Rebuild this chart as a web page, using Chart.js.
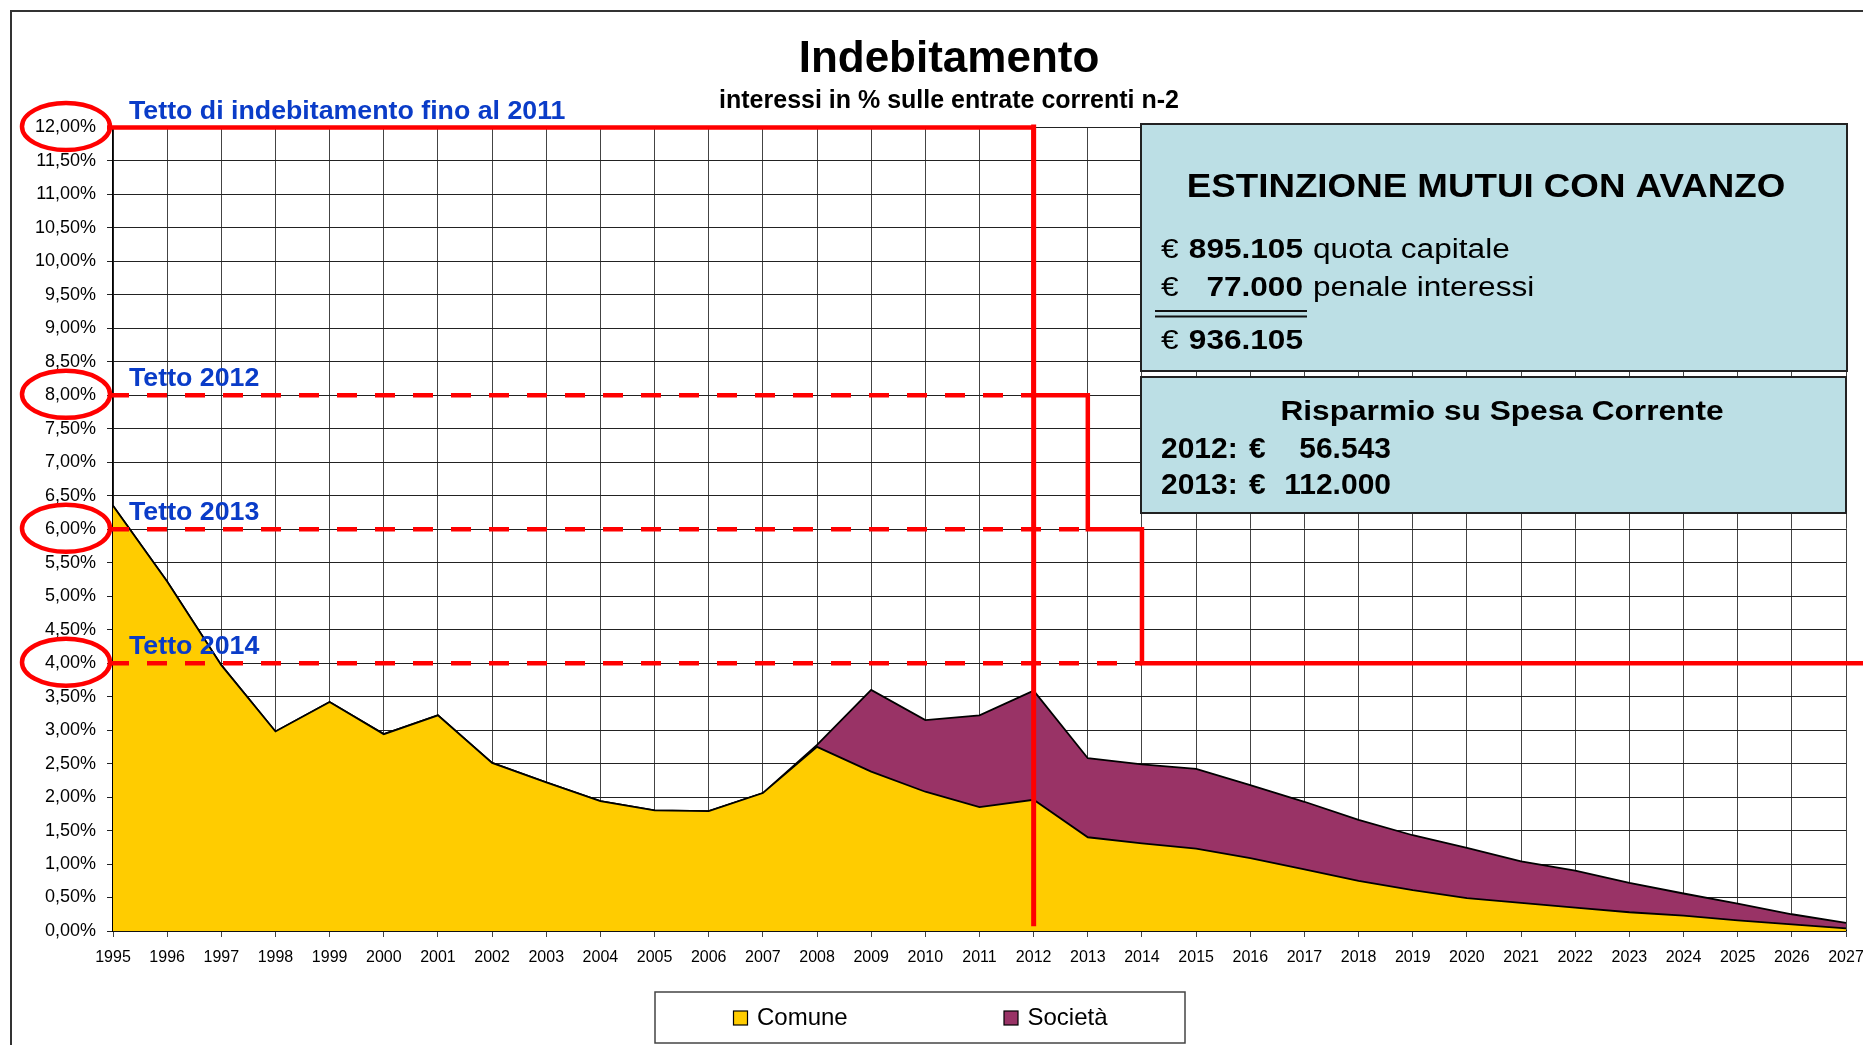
<!DOCTYPE html>
<html><head><meta charset="utf-8">
<script src="https://cdn.jsdelivr.net/npm/chart.js@4.4.1/dist/chart.umd.min.js"></script>
<style>html,body{margin:0;padding:0;background:#fff;overflow:hidden}</style>
</head><body>
<canvas id="c" width="1863" height="1045"></canvas>
<script>
const years = ['1995','1996','1997','1998','1999','2000','2001','2002','2003','2004','2005','2006','2007','2008','2009','2010','2011','2012','2013','2014','2015','2016','2017','2018','2019','2020','2021','2022','2023','2024','2025','2026','2027'];
const comune = [6.35,5.22,3.97,2.98,3.42,2.94,3.22,2.51,2.22,1.94,1.80,1.79,2.06,2.75,2.38,2.08,1.85,1.96,1.40,1.31,1.23,1.09,0.92,0.75,0.61,0.49,0.42,0.35,0.28,0.23,0.16,0.10,0.04];
const societa = [0,0,0,0,0,0,0,0,0,0,0,0,0,0.03,1.22,1.07,1.37,1.63,1.18,1.18,1.19,1.09,1.01,0.91,0.82,0.75,0.62,0.55,0.44,0.33,0.25,0.15,0.08];
const seriesNames = ['Comune','Società'];

const tettoLabels = ['Tetto di indebitamento fino al 2011','Tetto 2012','Tetto 2013','Tetto 2014'];
const tettoValues = [12, 8, 6, 4];
const tettoStart = ['1995','2012','2013','2014'];   // solid segment starts
const tettoEnd = ['2012','2013','2014', null];       // solid segment ends (null = to edge)
const cutYear = '2012';
const cutBottom = 0.07;

const titleText = 'Indebitamento';
const subtitleText = 'interessi in % sulle entrate correnti n-2';
const box1Title = 'ESTINZIONE MUTUI CON AVANZO';
const box1Amounts = ['895.105','77.000'];
const box1Descr = ['quota capitale','penale interessi'];
const box1Total = '936.105';
const box2Title = 'Risparmio su Spesa Corrente';
const box2Years = ['2012:','2013:'];
const box2Amounts = ['56.543','112.000'];

const FONT = "'Liberation Sans', Arial, sans-serif";
const RED = '#FF0000', BLUE = '#0A3CC8';

function txt(ctx, s, x, y, size, weight, color, align, sx) {
  ctx.save();
  ctx.font = weight + ' ' + size + 'px ' + FONT;
  ctx.fillStyle = color;
  ctx.textBaseline = 'alphabetic';
  ctx.textAlign = 'left';
  const w = ctx.measureText(s).width * sx;
  let x0 = x;
  if (align === 'center') x0 = x - w / 2;
  else if (align === 'right') x0 = x - w;
  ctx.translate(x0, y);
  ctx.scale(sx, 1);
  ctx.fillText(s, 0, 0);
  ctx.restore();
  return w;
}

const overlay = {
  id: 'overlay',
  afterDatasetsDraw(chart) {
    const ctx = chart.ctx, xs = chart.scales.x, ys = chart.scales.y, ca = chart.chartArea;
    const X = y => xs.getPixelForValue(years.indexOf(y));
    ctx.save();
    ctx.strokeStyle = RED;
    ctx.lineCap = 'butt';
    ctx.lineWidth = 4.5;
    ctx.setLineDash([20, 18]);
    for (let i = 1; i < tettoValues.length; i++) {
      const y = ys.getPixelForValue(tettoValues[i]);
      ctx.beginPath(); ctx.moveTo(ca.left - 4, y); ctx.lineTo(X(tettoStart[i]), y); ctx.stroke();
    }
    ctx.setLineDash([]);
    ctx.lineWidth = 4.5;
    ctx.beginPath();
    for (let i = 0; i < tettoValues.length; i++) {
      const y = ys.getPixelForValue(tettoValues[i]);
      const xa = i === 0 ? ca.left - 6 : X(tettoStart[i]);
      const xb = tettoEnd[i] ? X(tettoEnd[i]) : chart.width + 5;
      if (i === 0) ctx.moveTo(xa, y); else ctx.lineTo(xa, y);
      ctx.lineTo(xb, y);
    }
    ctx.stroke();
    ctx.lineWidth = 5;
    ctx.beginPath();
    ctx.moveTo(X(cutYear), ys.getPixelForValue(tettoValues[0]) - 3);
    ctx.lineTo(X(cutYear), ys.getPixelForValue(cutBottom));
    ctx.stroke();
    ctx.lineWidth = 4.5;
    for (let i = 0; i < tettoValues.length; i++) {
      const y = ys.getPixelForValue(tettoValues[i]) - 1;
      ctx.beginPath(); ctx.ellipse(66, y, 44, 23.5, 0, 0, Math.PI * 2); ctx.stroke();
    }
    ctx.restore();
    for (let i = 0; i < tettoValues.length; i++) {
      const y = ys.getPixelForValue(tettoValues[i]) - 9;
      txt(ctx, tettoLabels[i], ca.left + 16, y, 25, 'bold', BLUE, 'left', 1.07);
    }
  },
  afterDraw(chart) {
    const ctx = chart.ctx;
    ctx.save();
    ctx.strokeStyle = '#333'; ctx.lineWidth = 2;
    ctx.strokeRect(11, 11, 1900, 1100);
    ctx.restore();
    txt(ctx, titleText, 949, 72, 44, 'bold', '#000', 'center', 1);
    txt(ctx, subtitleText, 949, 108, 25, 'bold', '#000', 'center', 1);
    ctx.save();
    ctx.fillStyle = '#BCDFE5'; ctx.strokeStyle = '#222'; ctx.lineWidth = 2;
    ctx.fillRect(1141, 124, 706, 247); ctx.strokeRect(1141, 124, 706, 247);
    ctx.fillRect(1141, 377, 705, 136); ctx.strokeRect(1141, 377, 705, 136);
    ctx.restore();
    const sx = 1.17, fs = 27;
    txt(ctx, box1Title, 1486, 197, 34, 'bold', '#000', 'center', 1.08);
    const lineY = [258, 296];
    for (let i = 0; i < 2; i++) {
      txt(ctx, '€', 1161, lineY[i], fs, 'normal', '#000', 'left', sx);
      txt(ctx, box1Amounts[i], 1303, lineY[i], fs, 'bold', '#000', 'right', sx);
      txt(ctx, box1Descr[i], 1313, lineY[i], fs, 'normal', '#000', 'left', sx);
    }
    ctx.save();
    ctx.strokeStyle = '#111'; ctx.lineWidth = 2.2;
    ctx.beginPath(); ctx.moveTo(1155, 311); ctx.lineTo(1307, 311); ctx.moveTo(1155, 316.5); ctx.lineTo(1307, 316.5); ctx.stroke();
    ctx.restore();
    txt(ctx, '€', 1161, 348.5, fs, 'normal', '#000', 'left', sx);
    txt(ctx, box1Total, 1303, 348.5, fs, 'bold', '#000', 'right', sx);
    txt(ctx, box2Title, 1502, 420, 28, 'bold', '#000', 'center', 1.13);
    const l2 = [458, 493.5];
    for (let i = 0; i < 2; i++) {
      txt(ctx, box2Years[i], 1161, l2[i], 30, 'bold', '#000', 'left', 1);
      txt(ctx, '€', 1249, l2[i], 30, 'bold', '#000', 'left', 1);
      txt(ctx, box2Amounts[i], 1391, l2[i], 30, 'bold', '#000', 'right', 1);
    }
    ctx.save();
    ctx.fillStyle = '#fff'; ctx.strokeStyle = '#444'; ctx.lineWidth = 1.5;
    ctx.fillRect(655, 992, 530, 51); ctx.strokeRect(655, 992, 530, 51);
    const lx = [733.5, 1004];
    chart.data.datasets.forEach((ds, i) => {
      ctx.fillStyle = ds.backgroundColor; ctx.strokeStyle = '#000'; ctx.lineWidth = 1.2;
      ctx.fillRect(lx[i], 1011, 14, 14); ctx.strokeRect(lx[i], 1011, 14, 14);
      txt(ctx, ds.label, lx[i] + 23.5, 1025, 24, 'normal', '#000', 'left', 1);
    });
    ctx.restore();
  }
};

new Chart(document.getElementById('c').getContext('2d'), {
  type: 'line',
  data: {
    labels: years,
    datasets: [
      { label: seriesNames[0], data: comune, fill: 'origin', backgroundColor: '#FFCC00', borderColor: '#000', borderWidth: 1.8, pointRadius: 0, tension: 0, stack: 's' },
      { label: seriesNames[1], data: societa, fill: '-1', backgroundColor: '#993366', borderColor: '#000', borderWidth: 1.8, pointRadius: 0, tension: 0, stack: 's' }
    ]
  },
  options: {
    responsive: false, animation: false, devicePixelRatio: 1,
    layout: { padding: { left: 0, right: 17, top: 127.5, bottom: 74 } },
    plugins: { legend: { display: false }, tooltip: { enabled: false }, title: { display: false } },
    scales: {
      x: {
        type: 'category', offset: false,
        grid: { color: '#444', lineWidth: 1, tickLength: 6 },
        border: { color: '#000', width: 1.5 },
        ticks: { autoSkip: false, maxRotation: 0, minRotation: 0, color: '#000', font: { family: FONT, size: 16 }, padding: 11 },
        afterFit(s) { s.height = 40; s.paddingLeft = 0; s.paddingRight = 0; }
      },
      y: {
        stacked: true, min: 0, max: 12,
        grid: { color: '#222', lineWidth: 1, tickLength: 6 },
        border: { color: '#000', width: 1.5 },
        ticks: { stepSize: 0.5, autoSkip: false, color: '#000', font: { family: FONT, size: 18 }, padding: 11,
          callback: v => v.toFixed(2).replace('.', ',') + '%' },
        afterFit(s) { s.width = 113; s.paddingTop = 0; s.paddingBottom = 0; }
      }
    }
  },
  plugins: [overlay]
});
</script>
</body></html>
